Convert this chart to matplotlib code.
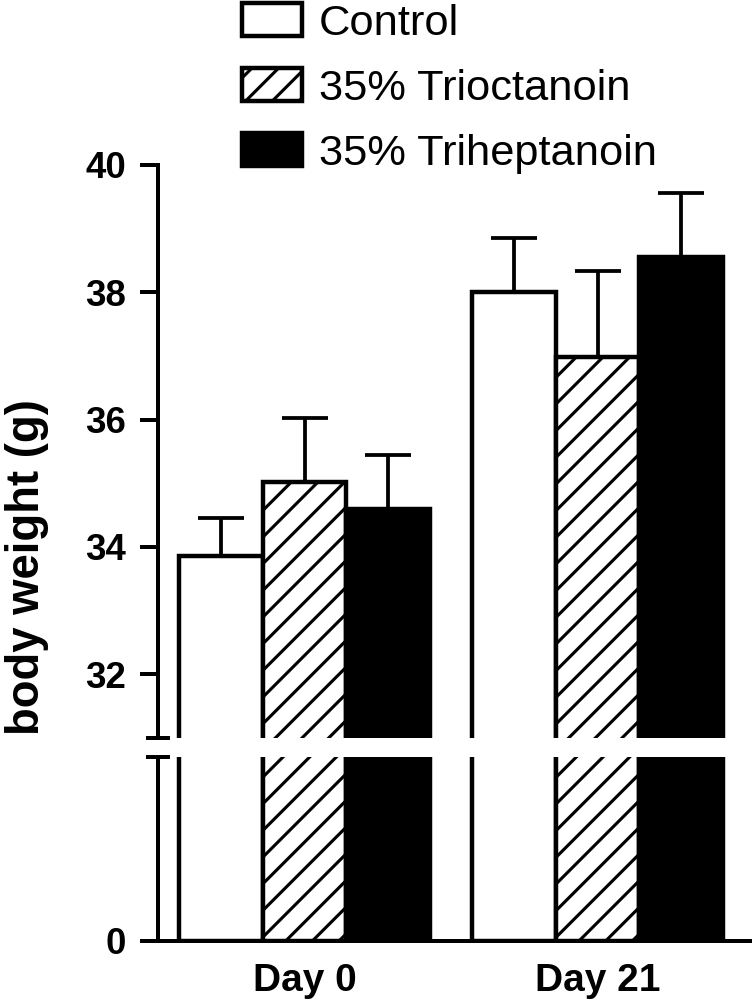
import matplotlib
matplotlib.use("Agg")
import matplotlib.pyplot as plt
import numpy as np

plt.rcParams['font.family'] = ['Liberation Sans', 'DejaVu Sans']
plt.rcParams['hatch.linewidth'] = 1.4

days = ["Day 0", "Day 21"]
groups = ["Control", "35% Trioctanoin", "35% Triheptanoin"]
means = {
    "Control": [33.86, 38.0],
    "35% Trioctanoin": [35.02, 36.98],
    "35% Triheptanoin": [34.6, 38.56],
}
sems = {
    "Control": [0.6, 0.85],
    "35% Trioctanoin": [1.0, 1.35],
    "35% Triheptanoin": [0.85, 1.0],
}
faces = ["white", "white", "black"]
hatches = [None, "//", None]
upper_ticks = [32, 34, 36, 38, 40]

DPI = 160
W, H = 755, 1008
fig = plt.figure(figsize=(W / DPI, H / DPI), dpi=DPI)

left, right = 158 / W, 750 / W
ax_up = fig.add_axes([left, 1 - 738 / H, right - left, (738 - 165) / H])
ax_lo = fig.add_axes([left, 1 - 941 / H, right - left, (941 - 757) / H])

x = np.arange(len(days))
w = 0.285
offsets = [-w, 0, w]
lw = 2.0
handles = []
for ax in (ax_up, ax_lo):
    for i, g in enumerate(groups):
        b = ax.bar(x + offsets[i], means[g], w, color=faces[i], edgecolor="black",
                   linewidth=lw, hatch=hatches[i], zorder=2)
        if ax is ax_up:
            handles.append(b)
            err = np.array(sems[g])
            ax.errorbar(x + offsets[i], means[g], yerr=[np.zeros_like(err), err],
                        fmt="none", ecolor="black", elinewidth=1.7, capsize=10.5,
                        capthick=1.7, zorder=1)
    ax.set_xlim(-0.5, 1.52)
    ax.spines["top"].set_visible(False)
    ax.spines["right"].set_visible(False)
    ax.spines["left"].set_linewidth(1.8)
    ax.spines["bottom"].set_linewidth(1.8)
    ax.tick_params(axis="y", length=8, width=1.8, pad=6.5, labelsize=16.5)

ax_up.set_ylim(31, 40)
ax_up.set_yticks(upper_ticks)
ax_up.set_yticklabels([str(v) for v in upper_ticks], fontweight="bold")
ax_up.spines["bottom"].set_visible(False)
ax_up.set_xticks([])

ax_lo.set_ylim(0, 10)
ax_lo.set_yticks([0])
ax_lo.set_yticklabels(["0"], fontweight="bold")
ax_lo.set_xticks(x)
ax_lo.set_xticklabels(days, fontweight="bold", fontsize=17.5)
ax_lo.tick_params(axis="x", length=0, pad=10)

# break marks
ax_up.plot([0], [0], marker="_", markersize=10.5, markeredgewidth=1.8, color="black",
           transform=ax_up.transAxes, clip_on=False)
ax_lo.plot([0], [1], marker="_", markersize=10.5, markeredgewidth=1.8, color="black",
           transform=ax_lo.transAxes, clip_on=False)

fig.text(27 / W, 1 - 567 / H, "body weight (g)", rotation=90, ha="center", va="center",
         fontsize=20.5, fontweight="bold")

fig.legend(handles, groups, loc="upper left", bbox_to_anchor=(242 / W, 1 - 3 / H),
           frameon=False, fontsize=19.5, handlelength=1.39, handleheight=0.81,
           handletextpad=0.39, labelspacing=0.56, borderpad=0, borderaxespad=0)

fig.savefig("out.png", dpi=DPI)
